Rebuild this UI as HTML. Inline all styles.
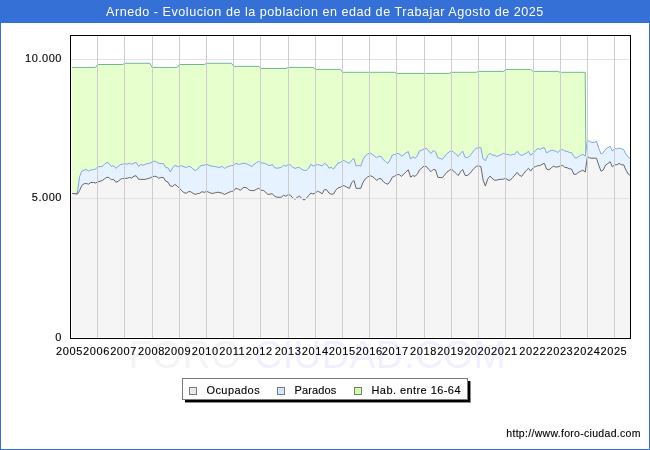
<!DOCTYPE html>
<html><head><meta charset="utf-8"><title>Arnedo</title>
<style>
html,body{margin:0;padding:0;background:#fff}
body{width:650px;height:450px;position:relative;overflow:hidden;font-family:"Liberation Sans",sans-serif;color:#000}
#all{position:absolute;left:0;top:0;width:650px;height:450px;will-change:transform;transform:translateZ(0)}

.yl,.xl,.lt,#url{-webkit-text-stroke:0.12px #000}
#frame{position:absolute;left:0;top:0;width:648px;height:448px;border:1px solid #3470d6;background:#fff}
#title{position:absolute;left:0;top:0;width:650px;height:23px;background:#3470d6;color:#fff;font-size:12.6px;line-height:23px;text-align:center;letter-spacing:0.52px;white-space:nowrap;padding-top:1px;box-sizing:border-box}
.yl{position:absolute;right:588px;font-size:11px;line-height:12px;letter-spacing:0.55px;white-space:nowrap;text-align:right}
.xl{position:absolute;top:345px;width:40px;text-align:center;font-size:11px;line-height:12px;letter-spacing:0.6px;white-space:nowrap}
#wm{position:absolute;left:128.5px;top:334.5px;font-size:38.6px;line-height:40px;white-space:nowrap;color:#f4f4f4;letter-spacing:0.3px}
#wm span{color:#f0f0ff}
#legend{position:absolute;left:182px;top:378px;width:284px;height:20px;border:1px solid #7a7a7a;background:#fff}
#sh1{position:absolute;left:185px;top:381px;width:286px;height:22px;background:#8c8c8c}
#sh2{position:absolute;left:185px;top:381px;width:285px;height:21px;background:#000}
.sw{position:absolute;top:8px;width:6px;height:6px;border:1px solid #777;box-shadow:inset 0 0 0 1px rgba(255,255,255,.3)}
.lt{position:absolute;top:5px;font-size:11px;line-height:12px;white-space:nowrap;letter-spacing:0.5px}
#url{position:absolute;left:506.3px;top:427px;font-size:10.5px;line-height:12px;white-space:nowrap;letter-spacing:0.3px}
</style></head><body><div id="all">
<div id="frame"></div>
<div id="title">Arnedo - Evolucion de la poblacion en edad de Trabajar Agosto de 2025</div>
<div id="wm">FORO-<span>CIUDAD.COM</span></div>
<svg width="650" height="450" viewBox="0 0 650 450" style="position:absolute;left:0;top:0">
<g transform="translate(1,0)">
</g>
<clipPath id="c"><rect x="72" y="36" width="558" height="301"/></clipPath>
<g clip-path="url(#c)">
<polygon points="70.5,337.5 70.5,67.4 95.4,67.4 97.7,64.5 122.6,64.5 124.9,63.3 149.9,63.3 152.1,67.4 177.1,67.4 179.3,64.5 204.3,64.5 206.5,63.3 231.5,63.3 233.7,66.4 258.7,66.4 260.9,68.5 285.9,68.5 288.2,67.4 313.1,67.4 315.4,69.4 340.3,69.4 342.6,72.3 394.7,72.3 397.0,73.4 449.1,73.4 451.4,72.3 476.3,72.3 478.6,71.4 503.5,71.4 505.8,69.4 530.7,69.4 533.0,71.4 557.9,71.4 560.2,72.3 585.2,72.3 587.4,337.5 630.5,337.5 630.5,337.5" fill="#e6ffcc"/>
<polyline points="70.5,67.4 95.4,67.4 97.7,64.5 122.6,64.5 124.9,63.3 149.9,63.3 152.1,67.4 177.1,67.4 179.3,64.5 204.3,64.5 206.5,63.3 231.5,63.3 233.7,66.4 258.7,66.4 260.9,68.5 285.9,68.5 288.2,67.4 313.1,67.4 315.4,69.4 340.3,69.4 342.6,72.3 394.7,72.3 397.0,73.4 449.1,73.4 451.4,72.3 476.3,72.3 478.6,71.4 503.5,71.4 505.8,69.4 530.7,69.4 533.0,71.4 557.9,71.4 560.2,72.3 585.2,72.3 587.4,337.5 630.5,337.5" fill="none" stroke="#70b892" stroke-width="1"/>
<polygon points="70.5,337.5 70.5,193.3 72.8,193.5 75.0,193.7 77.3,192.8 79.6,176.7 81.8,171.1 84.1,170.2 86.4,169.4 88.6,171.1 90.9,170.0 93.2,169.6 95.4,169.1 97.7,166.9 100.0,166.7 102.2,166.4 104.5,164.4 106.8,162.4 109.0,163.6 111.3,166.4 113.6,165.6 115.8,168.3 118.1,166.4 120.4,164.7 122.6,164.2 124.9,163.6 127.2,164.2 129.4,163.3 131.7,164.2 134.0,163.1 136.2,162.4 138.5,166.4 140.8,164.4 143.1,165.3 145.3,164.2 147.6,163.6 149.9,163.1 152.1,162.2 154.4,161.1 156.7,162.2 158.9,163.3 161.2,163.6 163.5,163.6 165.7,167.6 168.0,167.8 170.3,172.0 172.5,168.0 174.8,165.3 177.1,166.4 179.3,166.7 181.6,165.6 183.9,166.7 186.1,167.6 188.4,166.4 190.7,166.7 192.9,169.1 195.2,170.6 197.5,169.1 199.7,166.4 202.0,165.3 204.3,165.3 206.5,164.3 208.8,165.1 211.1,166.2 213.3,166.2 215.6,166.7 217.9,167.3 220.1,167.3 222.4,166.4 224.7,168.4 226.9,167.0 229.2,166.2 231.5,165.6 233.7,165.6 236.0,163.1 238.3,164.4 240.5,164.0 242.8,163.3 245.1,163.3 247.3,164.2 249.6,165.3 251.9,166.4 254.1,164.4 256.4,162.6 258.7,161.4 260.9,162.8 263.2,163.1 265.5,163.7 267.7,164.8 270.0,165.6 272.3,164.4 274.5,167.7 276.8,168.2 279.1,167.9 281.4,167.3 283.6,165.3 285.9,166.2 288.2,164.6 290.4,164.9 292.7,167.1 295.0,168.4 297.2,167.6 299.5,167.6 301.8,169.3 304.0,170.4 306.3,170.4 308.6,168.4 310.8,164.2 313.1,166.0 315.4,165.1 317.6,164.6 319.9,165.1 322.2,166.0 324.4,163.4 326.7,164.6 329.0,168.2 331.2,167.3 333.5,169.0 335.8,166.0 338.0,162.9 340.3,162.7 342.6,160.4 344.8,160.9 347.1,162.3 349.4,163.4 351.6,160.4 353.9,158.4 356.2,166.2 358.4,165.3 360.7,166.2 363.0,159.6 365.2,156.0 367.5,154.2 369.8,152.9 372.0,154.2 374.3,156.0 376.6,157.6 378.8,156.4 381.1,156.4 383.4,159.8 385.6,161.6 387.9,163.4 390.2,159.8 392.4,154.9 394.7,154.6 397.0,153.4 399.2,153.8 401.5,156.2 403.8,154.6 406.0,152.9 408.3,151.6 410.6,159.1 412.8,156.7 415.1,158.3 417.4,155.6 419.6,150.9 421.9,150.2 424.2,148.7 426.5,148.3 428.7,151.1 431.0,153.6 433.3,150.6 435.5,151.7 437.8,157.8 440.1,158.3 442.3,159.4 444.6,156.7 446.9,153.6 449.1,152.0 451.4,150.6 453.7,152.2 455.9,154.2 458.2,156.4 460.5,153.3 462.7,151.1 465.0,157.2 467.3,157.6 469.5,156.4 471.8,153.3 474.1,150.2 476.3,148.3 478.6,147.6 480.9,147.8 483.1,158.9 485.4,160.6 487.7,155.6 489.9,153.3 492.2,155.0 494.5,155.3 496.7,156.4 499.0,155.6 501.3,154.4 503.5,153.3 505.8,154.4 508.1,154.4 510.3,155.3 512.6,154.4 514.9,154.2 517.1,151.3 519.4,154.2 521.7,155.6 523.9,154.2 526.2,153.3 528.5,151.3 530.7,155.3 533.0,153.1 535.3,151.1 537.5,148.3 539.8,149.4 542.1,148.3 544.3,147.6 546.6,152.8 548.9,151.6 551.1,150.4 553.4,150.4 555.7,151.3 557.9,152.4 560.2,150.2 562.5,149.6 564.8,151.0 567.0,151.3 569.3,152.4 571.6,152.7 573.8,156.6 576.1,158.2 578.4,156.6 580.6,155.4 582.9,154.3 585.2,156.2 587.4,140.2 589.7,141.6 592.0,142.4 594.2,142.4 596.5,141.3 598.8,148.4 601.0,154.0 603.3,152.6 605.6,149.1 607.8,147.7 610.1,146.2 612.4,151.1 614.6,148.6 616.9,148.9 619.2,148.2 621.4,148.7 623.7,149.7 626.0,154.1 628.2,157.0 630.5,158.7 630.5,337.5" fill="#e6f2ff"/>
<polygon points="70.5,337.5 70.5,193.3 72.8,193.5 75.0,193.7 77.3,194.2 79.6,190.5 81.8,185.5 84.1,183.7 86.4,183.5 88.6,184.2 90.9,182.5 93.2,182.4 95.4,183.0 97.7,182.0 100.0,181.3 102.2,180.5 104.5,178.9 106.8,177.3 109.0,177.5 111.3,179.8 113.6,179.4 115.8,182.2 118.1,181.4 120.4,179.4 122.6,178.5 124.9,178.4 127.2,178.3 129.4,177.5 131.7,178.0 134.0,176.1 136.2,175.8 138.5,179.2 140.8,179.4 143.1,179.4 145.3,179.4 147.6,178.6 149.9,178.1 152.1,177.0 154.4,176.2 156.7,176.7 158.9,178.3 161.2,177.4 163.5,177.6 165.7,181.1 168.0,182.2 170.3,186.1 172.5,186.4 174.8,184.4 177.1,186.1 179.3,188.1 181.6,190.6 183.9,192.6 186.1,193.3 188.4,191.7 190.7,191.7 192.9,193.3 195.2,194.4 197.5,193.6 199.7,193.3 202.0,191.7 204.3,192.4 206.5,191.4 208.8,192.2 211.1,193.3 213.3,193.3 215.6,192.6 217.9,192.2 220.1,192.6 222.4,193.3 224.7,194.4 226.9,193.3 229.2,192.2 231.5,191.4 233.7,190.9 236.0,188.1 238.3,189.2 240.5,190.3 242.8,187.8 245.1,187.3 247.3,188.4 249.6,190.3 251.9,190.6 254.1,190.6 256.4,189.4 258.7,188.1 260.9,190.3 263.2,190.3 265.5,192.0 267.7,194.4 270.0,194.2 272.3,193.7 274.5,196.2 276.8,197.1 279.1,197.3 281.4,197.1 283.6,195.3 285.9,196.2 288.2,194.6 290.4,195.3 292.7,197.9 295.0,199.3 297.2,197.3 299.5,196.2 301.8,198.4 304.0,200.1 306.3,198.4 308.6,195.7 310.8,193.1 313.1,194.0 315.4,192.9 317.6,191.2 319.9,192.3 322.2,193.8 324.4,189.6 326.7,189.8 329.0,193.1 331.2,194.2 333.5,194.0 335.8,190.1 338.0,187.9 340.3,187.3 342.6,185.5 344.8,186.0 347.1,187.3 349.4,188.4 351.6,182.9 353.9,180.4 356.2,188.4 358.4,188.4 360.7,188.4 363.0,182.3 365.2,179.0 367.5,177.1 369.8,175.7 372.0,176.4 374.3,177.9 376.6,180.4 378.8,178.7 381.1,178.7 383.4,181.8 385.6,183.4 387.9,184.2 390.2,181.2 392.4,177.1 394.7,176.2 397.0,174.6 399.2,174.6 401.5,176.4 403.8,174.0 406.0,171.8 408.3,169.8 410.6,177.2 412.8,175.6 415.1,176.4 417.4,173.9 419.6,169.8 421.9,168.0 424.2,165.8 426.5,166.7 428.7,169.4 431.0,171.7 433.3,169.4 435.5,169.8 437.8,177.2 440.1,177.6 442.3,177.6 444.6,175.0 446.9,172.2 449.1,170.6 451.4,169.1 453.7,171.1 455.9,173.3 458.2,175.6 460.5,171.7 462.7,169.4 465.0,175.3 467.3,175.6 469.5,173.9 471.8,171.1 474.1,168.3 476.3,166.4 478.6,165.8 480.9,166.7 483.1,180.0 485.4,186.1 487.7,179.1 489.9,176.1 492.2,178.3 494.5,180.2 496.7,180.2 499.0,179.4 501.3,179.4 503.5,179.1 505.8,178.3 508.1,180.2 510.3,180.2 512.6,177.6 514.9,175.0 517.1,172.4 519.4,175.3 521.7,176.4 523.9,173.3 526.2,170.6 528.5,168.3 530.7,171.1 533.0,168.0 535.3,166.7 537.5,165.8 539.8,165.6 542.1,164.4 544.3,163.3 546.6,169.1 548.9,169.9 551.1,168.0 553.4,166.2 555.7,167.1 557.9,166.9 560.2,166.0 562.5,165.4 564.8,167.3 567.0,167.7 569.3,168.8 571.6,169.1 573.8,174.3 576.1,174.3 578.4,172.4 580.6,171.3 582.9,170.2 585.2,172.1 587.4,156.6 589.7,158.0 592.0,158.2 594.2,158.2 596.5,158.3 598.8,165.3 601.0,171.2 603.3,170.0 605.6,165.0 607.8,163.6 610.1,161.6 612.4,166.9 614.6,164.8 616.9,164.8 619.2,163.4 621.4,164.8 623.7,164.8 626.0,170.2 628.2,174.1 630.5,175.6 630.5,337.5" fill="#f5f5f5"/>
</g>
<g clip-path="url(#c)">
<polyline points="70.5,193.3 72.8,193.5 75.0,193.7 77.3,192.8 79.6,176.7 81.8,171.1 84.1,170.2 86.4,169.4 88.6,171.1 90.9,170.0 93.2,169.6 95.4,169.1 97.7,166.9 100.0,166.7 102.2,166.4 104.5,164.4 106.8,162.4 109.0,163.6 111.3,166.4 113.6,165.6 115.8,168.3 118.1,166.4 120.4,164.7 122.6,164.2 124.9,163.6 127.2,164.2 129.4,163.3 131.7,164.2 134.0,163.1 136.2,162.4 138.5,166.4 140.8,164.4 143.1,165.3 145.3,164.2 147.6,163.6 149.9,163.1 152.1,162.2 154.4,161.1 156.7,162.2 158.9,163.3 161.2,163.6 163.5,163.6 165.7,167.6 168.0,167.8 170.3,172.0 172.5,168.0 174.8,165.3 177.1,166.4 179.3,166.7 181.6,165.6 183.9,166.7 186.1,167.6 188.4,166.4 190.7,166.7 192.9,169.1 195.2,170.6 197.5,169.1 199.7,166.4 202.0,165.3 204.3,165.3 206.5,164.3 208.8,165.1 211.1,166.2 213.3,166.2 215.6,166.7 217.9,167.3 220.1,167.3 222.4,166.4 224.7,168.4 226.9,167.0 229.2,166.2 231.5,165.6 233.7,165.6 236.0,163.1 238.3,164.4 240.5,164.0 242.8,163.3 245.1,163.3 247.3,164.2 249.6,165.3 251.9,166.4 254.1,164.4 256.4,162.6 258.7,161.4 260.9,162.8 263.2,163.1 265.5,163.7 267.7,164.8 270.0,165.6 272.3,164.4 274.5,167.7 276.8,168.2 279.1,167.9 281.4,167.3 283.6,165.3 285.9,166.2 288.2,164.6 290.4,164.9 292.7,167.1 295.0,168.4 297.2,167.6 299.5,167.6 301.8,169.3 304.0,170.4 306.3,170.4 308.6,168.4 310.8,164.2 313.1,166.0 315.4,165.1 317.6,164.6 319.9,165.1 322.2,166.0 324.4,163.4 326.7,164.6 329.0,168.2 331.2,167.3 333.5,169.0 335.8,166.0 338.0,162.9 340.3,162.7 342.6,160.4 344.8,160.9 347.1,162.3 349.4,163.4 351.6,160.4 353.9,158.4 356.2,166.2 358.4,165.3 360.7,166.2 363.0,159.6 365.2,156.0 367.5,154.2 369.8,152.9 372.0,154.2 374.3,156.0 376.6,157.6 378.8,156.4 381.1,156.4 383.4,159.8 385.6,161.6 387.9,163.4 390.2,159.8 392.4,154.9 394.7,154.6 397.0,153.4 399.2,153.8 401.5,156.2 403.8,154.6 406.0,152.9 408.3,151.6 410.6,159.1 412.8,156.7 415.1,158.3 417.4,155.6 419.6,150.9 421.9,150.2 424.2,148.7 426.5,148.3 428.7,151.1 431.0,153.6 433.3,150.6 435.5,151.7 437.8,157.8 440.1,158.3 442.3,159.4 444.6,156.7 446.9,153.6 449.1,152.0 451.4,150.6 453.7,152.2 455.9,154.2 458.2,156.4 460.5,153.3 462.7,151.1 465.0,157.2 467.3,157.6 469.5,156.4 471.8,153.3 474.1,150.2 476.3,148.3 478.6,147.6 480.9,147.8 483.1,158.9 485.4,160.6 487.7,155.6 489.9,153.3 492.2,155.0 494.5,155.3 496.7,156.4 499.0,155.6 501.3,154.4 503.5,153.3 505.8,154.4 508.1,154.4 510.3,155.3 512.6,154.4 514.9,154.2 517.1,151.3 519.4,154.2 521.7,155.6 523.9,154.2 526.2,153.3 528.5,151.3 530.7,155.3 533.0,153.1 535.3,151.1 537.5,148.3 539.8,149.4 542.1,148.3 544.3,147.6 546.6,152.8 548.9,151.6 551.1,150.4 553.4,150.4 555.7,151.3 557.9,152.4 560.2,150.2 562.5,149.6 564.8,151.0 567.0,151.3 569.3,152.4 571.6,152.7 573.8,156.6 576.1,158.2 578.4,156.6 580.6,155.4 582.9,154.3 585.2,156.2 587.4,140.2 589.7,141.6 592.0,142.4 594.2,142.4 596.5,141.3 598.8,148.4 601.0,154.0 603.3,152.6 605.6,149.1 607.8,147.7 610.1,146.2 612.4,151.1 614.6,148.6 616.9,148.9 619.2,148.2 621.4,148.7 623.7,149.7 626.0,154.1 628.2,157.0 630.5,158.7" fill="none" stroke="#7ea6ec" stroke-width="1" stroke-linejoin="round"/>
<polyline points="70.5,193.3 72.8,193.5 75.0,193.7 77.3,194.2 79.6,190.5 81.8,185.5 84.1,183.7 86.4,183.5 88.6,184.2 90.9,182.5 93.2,182.4 95.4,183.0 97.7,182.0 100.0,181.3 102.2,180.5 104.5,178.9 106.8,177.3 109.0,177.5 111.3,179.8 113.6,179.4 115.8,182.2 118.1,181.4 120.4,179.4 122.6,178.5 124.9,178.4 127.2,178.3 129.4,177.5 131.7,178.0 134.0,176.1 136.2,175.8 138.5,179.2 140.8,179.4 143.1,179.4 145.3,179.4 147.6,178.6 149.9,178.1 152.1,177.0 154.4,176.2 156.7,176.7 158.9,178.3 161.2,177.4 163.5,177.6 165.7,181.1 168.0,182.2 170.3,186.1 172.5,186.4 174.8,184.4 177.1,186.1 179.3,188.1 181.6,190.6 183.9,192.6 186.1,193.3 188.4,191.7 190.7,191.7 192.9,193.3 195.2,194.4 197.5,193.6 199.7,193.3 202.0,191.7 204.3,192.4 206.5,191.4 208.8,192.2 211.1,193.3 213.3,193.3 215.6,192.6 217.9,192.2 220.1,192.6 222.4,193.3 224.7,194.4 226.9,193.3 229.2,192.2 231.5,191.4 233.7,190.9 236.0,188.1 238.3,189.2 240.5,190.3 242.8,187.8 245.1,187.3 247.3,188.4 249.6,190.3 251.9,190.6 254.1,190.6 256.4,189.4 258.7,188.1 260.9,190.3 263.2,190.3 265.5,192.0 267.7,194.4 270.0,194.2 272.3,193.7 274.5,196.2 276.8,197.1 279.1,197.3 281.4,197.1 283.6,195.3 285.9,196.2 288.2,194.6 290.4,195.3 292.7,197.9 295.0,199.3 297.2,197.3 299.5,196.2 301.8,198.4 304.0,200.1 306.3,198.4 308.6,195.7 310.8,193.1 313.1,194.0 315.4,192.9 317.6,191.2 319.9,192.3 322.2,193.8 324.4,189.6 326.7,189.8 329.0,193.1 331.2,194.2 333.5,194.0 335.8,190.1 338.0,187.9 340.3,187.3 342.6,185.5 344.8,186.0 347.1,187.3 349.4,188.4 351.6,182.9 353.9,180.4 356.2,188.4 358.4,188.4 360.7,188.4 363.0,182.3 365.2,179.0 367.5,177.1 369.8,175.7 372.0,176.4 374.3,177.9 376.6,180.4 378.8,178.7 381.1,178.7 383.4,181.8 385.6,183.4 387.9,184.2 390.2,181.2 392.4,177.1 394.7,176.2 397.0,174.6 399.2,174.6 401.5,176.4 403.8,174.0 406.0,171.8 408.3,169.8 410.6,177.2 412.8,175.6 415.1,176.4 417.4,173.9 419.6,169.8 421.9,168.0 424.2,165.8 426.5,166.7 428.7,169.4 431.0,171.7 433.3,169.4 435.5,169.8 437.8,177.2 440.1,177.6 442.3,177.6 444.6,175.0 446.9,172.2 449.1,170.6 451.4,169.1 453.7,171.1 455.9,173.3 458.2,175.6 460.5,171.7 462.7,169.4 465.0,175.3 467.3,175.6 469.5,173.9 471.8,171.1 474.1,168.3 476.3,166.4 478.6,165.8 480.9,166.7 483.1,180.0 485.4,186.1 487.7,179.1 489.9,176.1 492.2,178.3 494.5,180.2 496.7,180.2 499.0,179.4 501.3,179.4 503.5,179.1 505.8,178.3 508.1,180.2 510.3,180.2 512.6,177.6 514.9,175.0 517.1,172.4 519.4,175.3 521.7,176.4 523.9,173.3 526.2,170.6 528.5,168.3 530.7,171.1 533.0,168.0 535.3,166.7 537.5,165.8 539.8,165.6 542.1,164.4 544.3,163.3 546.6,169.1 548.9,169.9 551.1,168.0 553.4,166.2 555.7,167.1 557.9,166.9 560.2,166.0 562.5,165.4 564.8,167.3 567.0,167.7 569.3,168.8 571.6,169.1 573.8,174.3 576.1,174.3 578.4,172.4 580.6,171.3 582.9,170.2 585.2,172.1 587.4,156.6 589.7,158.0 592.0,158.2 594.2,158.2 596.5,158.3 598.8,165.3 601.0,171.2 603.3,170.0 605.6,165.0 607.8,163.6 610.1,161.6 612.4,166.9 614.6,164.8 616.9,164.8 619.2,163.4 621.4,164.8 623.7,164.8 626.0,170.2 628.2,174.1 630.5,175.6" fill="none" stroke="#666" stroke-width="1" stroke-linejoin="round"/>
</g>
<g shape-rendering="crispEdges">
<line x1="71" x2="629" y1="59.5" y2="59.5" stroke="#e2e2e2"/>
<line x1="71" x2="629" y1="198.5" y2="198.5" stroke="#e2e2e2"/>
<line x1="97.5" x2="97.5" y1="36" y2="338" stroke="#cdcdcd"/>
<line x1="124.5" x2="124.5" y1="36" y2="338" stroke="#cdcdcd"/>
<line x1="152.5" x2="152.5" y1="36" y2="338" stroke="#cdcdcd"/>
<line x1="179.5" x2="179.5" y1="36" y2="338" stroke="#cdcdcd"/>
<line x1="206.5" x2="206.5" y1="36" y2="338" stroke="#cdcdcd"/>
<line x1="233.5" x2="233.5" y1="36" y2="338" stroke="#cdcdcd"/>
<line x1="260.5" x2="260.5" y1="36" y2="338" stroke="#cdcdcd"/>
<line x1="288.5" x2="288.5" y1="36" y2="338" stroke="#cdcdcd"/>
<line x1="315.5" x2="315.5" y1="36" y2="338" stroke="#cdcdcd"/>
<line x1="342.5" x2="342.5" y1="36" y2="338" stroke="#cdcdcd"/>
<line x1="369.5" x2="369.5" y1="36" y2="338" stroke="#cdcdcd"/>
<line x1="396.5" x2="396.5" y1="36" y2="338" stroke="#cdcdcd"/>
<line x1="424.5" x2="424.5" y1="36" y2="338" stroke="#cdcdcd"/>
<line x1="451.5" x2="451.5" y1="36" y2="338" stroke="#cdcdcd"/>
<line x1="478.5" x2="478.5" y1="36" y2="338" stroke="#cdcdcd"/>
<line x1="505.5" x2="505.5" y1="36" y2="338" stroke="#cdcdcd"/>
<line x1="533.5" x2="533.5" y1="36" y2="338" stroke="#cdcdcd"/>
<line x1="560.5" x2="560.5" y1="36" y2="338" stroke="#cdcdcd"/>
<line x1="587.5" x2="587.5" y1="36" y2="338" stroke="#cdcdcd"/>
<line x1="614.5" x2="614.5" y1="36" y2="338" stroke="#cdcdcd"/>
</g>
<rect x="70.5" y="35.5" width="560" height="303" fill="none" stroke="#000" shape-rendering="crispEdges"/>
</svg>
<div class="yl" style="top:52px">10.000</div>
<div class="yl" style="top:191px">5.000</div>
<div class="yl" style="top:331px">0</div>
<div class="xl" style="left:49.5px">2005</div>
<div class="xl" style="left:76.5px">2006</div>
<div class="xl" style="left:103.6px">2007</div>
<div class="xl" style="left:131.5px">2008</div>
<div class="xl" style="left:157.8px">2009</div>
<div class="xl" style="left:185.2px">2010</div>
<div class="xl" style="left:212.3px">2011</div>
<div class="xl" style="left:239.3px">2012</div>
<div class="xl" style="left:268.1px">2013</div>
<div class="xl" style="left:295.2px">2014</div>
<div class="xl" style="left:322.3px">2015</div>
<div class="xl" style="left:349.3px">2016</div>
<div class="xl" style="left:375.2px">2017</div>
<div class="xl" style="left:403.5px">2018</div>
<div class="xl" style="left:430.6px">2019</div>
<div class="xl" style="left:457.6px">2020</div>
<div class="xl" style="left:484.4px">2021</div>
<div class="xl" style="left:512.8px">2022</div>
<div class="xl" style="left:539.9px">2023</div>
<div class="xl" style="left:567.0px">2024</div>
<div class="xl" style="left:593.9px">2025</div>
<div id="sh1"></div><div id="sh2"></div>
<div id="legend">
<div class="sw" style="left:6px;background:#e8e8e8"></div><div class="lt" style="left:23.4px;letter-spacing:0.45px">Ocupados</div>
<div class="sw" style="left:94px;background:#cce4ff"></div><div class="lt" style="left:111.6px;letter-spacing:0.13px">Parados</div>
<div class="sw" style="left:171px;background:#ccff99"></div><div class="lt" style="left:188.5px;letter-spacing:0.43px">Hab. entre 16-64</div>
</div>
<div id="url">http://www.foro-ciudad.com</div>
</div></body></html>
